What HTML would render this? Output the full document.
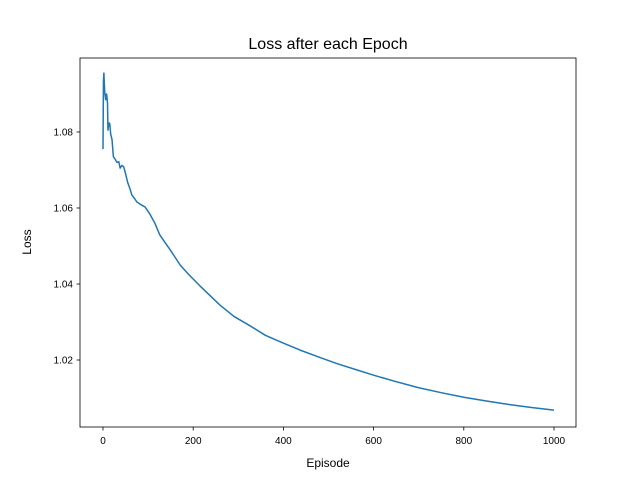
<!DOCTYPE html>
<html><head><meta charset="utf-8"><style>body{margin:0;background:#fff}svg{display:block;font-family:"Liberation Sans","DejaVu Sans",sans-serif}</style></head>
<body>
<svg id="c" width="640" height="480"></svg>
<script>
const episodes=[0,1,2,3,4,6,8,10,11,13,15,17,20,23,26,31,35,38,42,46,49,55,60,64,70,75,85,93,104,115,126,137,149,160,171,190,215,237,259,290,326,360,399,437,480,520,560,600,650,700,750,800,850,900,950,1000];
const losses=[1.0755,1.0935,1.0955,1.0925,1.0903,1.0885,1.090,1.0876,1.0805,1.0824,1.0822,1.0795,1.078,1.0735,1.073,1.072,1.0722,1.0705,1.0712,1.0708,1.0695,1.0666,1.065,1.0634,1.0625,1.0616,1.0608,1.0603,1.0584,1.056,1.0529,1.051,1.049,1.047,1.045,1.0425,1.0395,1.037,1.0345,1.0315,1.029,1.0265,1.0245,1.0226,1.0207,1.019,1.0175,1.016,1.0143,1.0127,1.0114,1.0102,1.0092,1.0083,1.0075,1.0068];
const xTicks=[0,200,400,600,800,1000];
const yTicks=[1.02,1.04,1.06,1.08];
const NS="http://www.w3.org/2000/svg",svg=document.getElementById('c');
const L=80,R=576,T=58,B=427;
const xs=v=>103+v*0.451;
const ys=v=>360-(v-1.02)*3800;
function add(tag,at,txt){const e=document.createElementNS(NS,tag);for(const k in at)e.setAttribute(k,at[k]);if(txt!=null)e.textContent=txt;svg.appendChild(e);return e;}
let e=add('text',{x:328,y:49,'text-anchor':'middle','font-size':16},'Loss after each Epoch');

e=add('polyline',{points:episodes.map((x,i)=>xs(x)+','+ys(losses[i])).join(' '),fill:'none',stroke:'#1f77b4','stroke-width':1.5,'stroke-linejoin':'round'});

e=add('rect',{x:L,y:T,width:R-L,height:B-T,fill:'none',stroke:'#000','stroke-width':0.8});

xTicks.forEach(t=>{const x=xs(t);
 e=add('line',{x1:x,x2:x,y1:B,y2:B+3.5,stroke:'#000','stroke-width':0.8});
 e=add('text',{x:x,y:B+17,'text-anchor':'middle','font-size':10},String(t));});
yTicks.forEach(t=>{const y=ys(t);
 e=add('line',{x1:L-3.5,x2:L,y1:y,y2:y,stroke:'#000','stroke-width':0.8});
 e=add('text',{x:L-7,y:y+3.5,'text-anchor':'end','font-size':10},t.toFixed(2));});
e=add('text',{x:328,y:467,'text-anchor':'middle','font-size':12},'Episode');
e=add('text',{x:31,y:242,'text-anchor':'middle','font-size':12,transform:'rotate(-90 31 242)'},'Loss');
</script>
</body></html>
